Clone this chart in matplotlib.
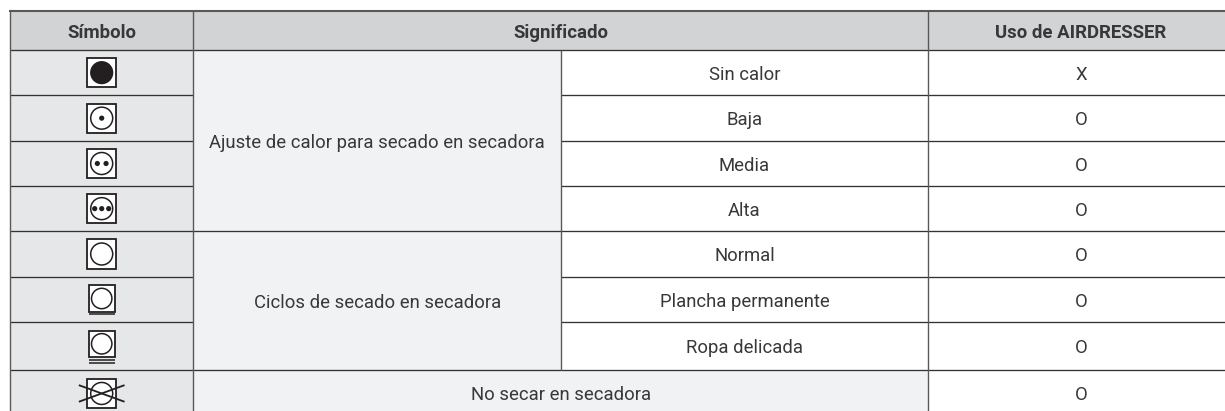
#table of tumble dry symbols
from matplotlib import pyplot as plt
from matplotlib.patches import Rectangle, Circle

headers = ['Símbolo', 'Significado', 'Uso de AIRDRESSER']
groups = ['Ajuste de calor para secado en secadora', 'Ciclos de secado en secadora']
group_rows = [(0, 4), (4, 7)]
settings = ['Sin calor', 'Baja', 'Media', 'Alta', 'Normal', 'Plancha permanente', 'Ropa delicada']
no_dry = 'No secar en secadora'
uso = ['X', 'O', 'O', 'O', 'O', 'O', 'O', 'O']
dots = [0, 1, 2, 3, 0, 0, 0, 0]
bars = [0, 0, 0, 0, 0, 1, 2, 0]

W, H = 1225, 411
col_x = [10, 193.3, 561, 928, 1225]
row_y = [11, 50, 95.3, 141, 186, 231.3, 276.7, 322.3, 370.3, 411]
uso_x = 1081  # last column runs past the picture, so its text is off the visible centre
dark = '#333333'
grey = '#58595b'
text_col = '#38383a'

plt.rcParams['font.family'] = ['Roboto', 'DejaVu Sans']
fig = plt.figure(figsize=(W / 100, H / 100), dpi=100)
ax = fig.add_axes([0, 0, 1, 1])
ax.set_xlim(0, W)
ax.set_ylim(H, 0)
ax.axis('off')


def box(x0, x1, y0, y1, color):
    ax.add_patch(Rectangle((x0, y0), x1 - x0, y1 - y0, fc=color, ec='none', zorder=1))


def label(x, y, s, size=13.3, **kw):
    ax.text(x, y + 2, s, ha='center', va='center', fontsize=size, color=text_col, zorder=5, **kw)


# backgrounds
box(col_x[0], col_x[4], row_y[0], row_y[1], '#d1d3d4')
box(col_x[0], col_x[1], row_y[1], row_y[9], '#e6e7e8')
box(col_x[1], col_x[2], row_y[1], row_y[8], '#f1f2f4')
box(col_x[1], col_x[3], row_y[8], row_y[9], '#f1f2f4')

# grid lines
line = dict(color=dark, lw=0.95, zorder=3, solid_capstyle='butt')
vline = dict(color=grey, lw=1.0, zorder=3, solid_capstyle='butt')
ax.plot([col_x[0], col_x[4]], [row_y[0], row_y[0]], color=grey, lw=1.5, zorder=3)
ax.plot([col_x[0], col_x[4]], [row_y[1], row_y[1]], **line)
for i in range(2, 9):
    ax.plot([col_x[0], col_x[1]], [row_y[i], row_y[i]], **line)
    ax.plot([col_x[2], col_x[4]], [row_y[i], row_y[i]], **line)
for y in (row_y[5], row_y[8]):
    ax.plot([col_x[1], col_x[2]], [y, y], **line)
ax.plot([col_x[0], col_x[0]], [row_y[0], row_y[9]], **vline)
ax.plot([col_x[1], col_x[1]], [row_y[0], row_y[9]], **vline)
ax.plot([col_x[2], col_x[2]], [row_y[1], row_y[8]], **vline)
ax.plot([col_x[3], col_x[3]], [row_y[0], row_y[9]], **vline)

# text
head_y = (row_y[0] + row_y[1]) / 2
label((col_x[0] + col_x[1]) / 2, head_y, headers[0], size=13.4, fontweight='bold')
label((col_x[1] + col_x[3]) / 2, head_y, headers[1], size=13.4, fontweight='bold')
label(uso_x, head_y, headers[2], size=13.4, fontweight='bold')
for name, (a, b) in zip(groups, group_rows):
    label((col_x[1] + col_x[2]) / 2, (row_y[a + 1] + row_y[b + 1]) / 2, name)
for i, s in enumerate(settings):
    label((col_x[2] + col_x[3]) / 2, (row_y[i + 1] + row_y[i + 2]) / 2, s)
label((col_x[1] + col_x[3]) / 2, (row_y[8] + row_y[9]) / 2 + 2, no_dry)
for i, s in enumerate(uso):
    label(uso_x, (row_y[i + 1] + row_y[i + 2]) / 2 + (2 if i == 7 else 0), s)

# symbols
sx = 101.7
k = '#231f20'
for i in range(8):
    cy = (row_y[i + 1] + row_y[i + 2]) / 2
    hs = 14.6 if bars[i] == 0 else 13.2
    if bars[i] == 1:
        cy -= 1
    if bars[i] == 2:
        cy -= 2.5
    if i == 7:
        cy += 2.8
    ax.add_patch(Rectangle((sx - hs, cy - hs), 2 * hs, 2 * hs, fc='white', ec=k, lw=1.3, zorder=4))
    if i == 0:
        ax.add_patch(Circle((sx, cy), 11.6, fc=k, ec='none', zorder=5))
    else:
        ax.add_patch(Circle((sx, cy), 11 if bars[i] == 0 else 10.2, fc='none', ec=k, lw=1.1, zorder=5))
    step = 7 if dots[i] == 3 else 8.7
    for j in range(dots[i]):
        ax.add_patch(Circle((sx + (j - (dots[i] - 1) / 2) * step, cy), 2.6, fc=k, ec='none', zorder=5))
    for j in range(bars[i]):
        yb = cy + hs + 2.6 + j * 3.2
        ax.plot([sx - hs, sx + hs], [yb, yb], color=k, lw=1.1, zorder=5, solid_capstyle='butt')
    if i == 7:
        ax.plot([sx - 22, sx + 22], [cy - 8, cy + 8], color=k, lw=1.3, zorder=6)
        ax.plot([sx - 22, sx + 22], [cy + 8, cy - 8], color=k, lw=1.3, zorder=6)

plt.savefig('out.png', dpi=100)
